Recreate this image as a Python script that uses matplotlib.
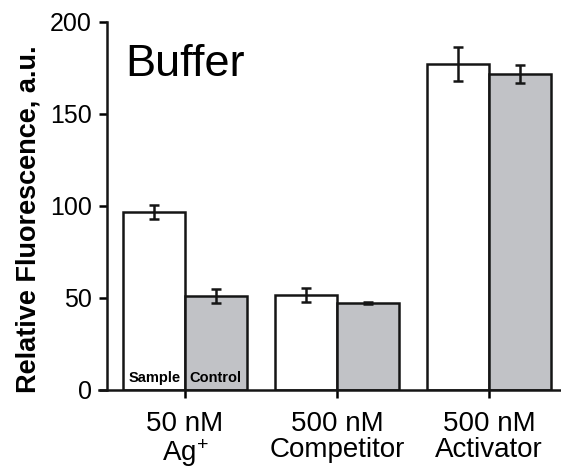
import numpy as np
import matplotlib
matplotlib.use("Agg")
from matplotlib import pyplot as plt

plt.rcParams['font.family'] = ['Liberation Sans', 'DejaVu Sans']
plt.rcParams['mathtext.fontset'] = 'custom'
plt.rcParams['mathtext.rm'] = 'Liberation Sans'
plt.rcParams['mathtext.default'] = 'regular'

categories = ["50 nM\nAg$^{+}$", "500 nM\nCompetitor", "500 nM\nActivator"]
sample = [96.7, 51.6, 177.0]
sample_err = [3.9, 4.0, 9.2]
control = [51.0, 47.3, 171.6]
control_err = [3.9, 0.6, 4.8]

fig = plt.figure(figsize=(5.61, 4.68), dpi=100)
ax = fig.add_axes([0.1765, 0.1667, 0.8235, 0.7863])

x = np.arange(len(categories))
w = 0.405
err_kw = dict(ecolor='#151515', elinewidth=1.8, capsize=3.8, capthick=1.8)
ax.bar(x - w/2, sample, w, yerr=sample_err, color='white', edgecolor='#151515',
       linewidth=1.8, error_kw=err_kw, zorder=2)
ax.bar(x + w/2, control, w, yerr=control_err, color='#c1c2c6', edgecolor='#151515',
       linewidth=1.8, error_kw=err_kw, zorder=2)

# labels inside the first pair of bars
ax.text(-w/2, 2.5, "Sample", ha='center', va='bottom', fontsize=10.5, fontweight='bold')
ax.text(w/2, 2.5, "Control", ha='center', va='bottom', fontsize=10.5, fontweight='bold')

ax.text(0.056, 0.852, "Buffer", transform=ax.transAxes, fontsize=32.5)

ax.set_xlim(-0.566, 2.474)
ax.set_ylim(0, 200)
ax.set_yticks([0, 50, 100, 150, 200])
ax.set_xticks(x)
ax.set_xticklabels(categories, fontsize=20, linespacing=1.0)
ax.tick_params(axis='y', labelsize=18, direction='out', length=6, width=1.8, pad=5)
ax.tick_params(axis='x', direction='out', length=6, width=1.8, pad=9)

ax.spines['top'].set_visible(False)
ax.spines['right'].set_visible(False)
ax.spines['left'].set_position(('data', -0.513))
for s in ['left', 'bottom']:
    ax.spines[s].set_linewidth(1.8)
    ax.spines[s].set_color('#151515')

ax.set_ylabel("Relative Fluorescence, a.u.", fontsize=19.5, fontweight='bold')
ax.yaxis.set_label_coords(-0.124, 0.465)

plt.savefig("out.png", dpi=100)
